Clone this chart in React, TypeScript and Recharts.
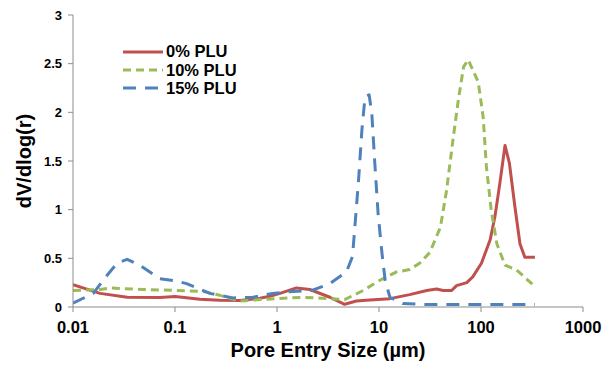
import React from "react";
import { Line, LineChart, XAxis, YAxis } from "recharts";

// Pore size distribution (MIP) — three PLU dosages, log x-axis.
const sizes0 = [0.01, 0.0184, 0.034, 0.071, 0.1, 0.176, 0.275, 0.43, 0.68, 0.85, 1.07, 1.55, 2.1, 3.3, 4.6, 6.0, 8.1, 12.8, 20, 29.4, 36.7, 42.6, 51.5, 57.6, 72.5, 83, 101, 123, 137, 153, 172, 190, 215, 241, 269, 338];
const values0 = [0.23, 0.14, 0.1, 0.097, 0.107, 0.08, 0.07, 0.066, 0.09, 0.11, 0.14, 0.196, 0.18, 0.1, 0.028, 0.062, 0.073, 0.086, 0.127, 0.17, 0.185, 0.17, 0.17, 0.22, 0.25, 0.31, 0.45, 0.69, 0.93, 1.27, 1.66, 1.475, 1.03, 0.65, 0.51, 0.51];

const sizes10 = [0.01, 0.0184, 0.023, 0.048, 0.1, 0.19, 0.275, 0.43, 0.68, 1.0, 1.8, 2.8, 4.6, 7, 10, 14.9, 20, 25, 31.5, 40, 46, 53, 60, 67.6, 75, 94, 105, 113, 126, 143, 172, 224, 338];
const values10 = [0.17, 0.18, 0.195, 0.18, 0.17, 0.16, 0.12, 0.06, 0.076, 0.086, 0.1, 0.09, 0.075, 0.17, 0.27, 0.36, 0.385, 0.45, 0.56, 0.82, 1.2, 1.71, 2.13, 2.47, 2.54, 2.31, 1.95, 1.44, 0.995, 0.65, 0.43, 0.38, 0.21];

const sizes15 = [0.01, 0.0158, 0.021, 0.027, 0.034, 0.045, 0.071, 0.1, 0.13, 0.22, 0.37, 0.58, 0.91, 1.24, 2.2, 3.3, 4.8, 5.5, 6.3, 6.8, 7.3, 8.0, 8.5, 9.1, 9.8, 10.7, 11.5, 12.8, 17.2, 30, 100, 338];
const values15 = [0.04, 0.14, 0.31, 0.45, 0.49, 0.43, 0.29, 0.27, 0.24, 0.14, 0.093, 0.1, 0.14, 0.155, 0.17, 0.24, 0.36, 0.52, 1.3, 1.82, 2.16, 2.18, 1.99, 1.475, 0.96, 0.55, 0.27, 0.1, 0.035, 0.025, 0.025, 0.025];

const xTicks = [0.01, 0.1, 1, 10, 100, 1000];
const yTicks = [0, 0.5, 1, 1.5, 2, 2.5, 3];

const series = [
  { name: "0% PLU", color: "#C0504D", dash: undefined as string | undefined, sizes: sizes0, values: values0 },
  { name: "10% PLU", color: "#9BBB59", dash: "8 5", sizes: sizes10, values: values10 },
  { name: "15% PLU", color: "#4F81BD", dash: "13 9", sizes: sizes15, values: values15 },
];

const FONT = '"Liberation Sans", Arial, sans-serif';
const AXIS = "#8c8c8c";

// legend sits inside the plot, top-left; drawn outside recharts so it doesn't eat the margin
function LegendBox() {
  return (
    <div style={{ position: "absolute", left: 123, top: 42.5, fontFamily: FONT }}>
      {series.map((s) => (
        <div key={s.name} style={{ display: "flex", alignItems: "center", height: 18.3 }}>
          <svg width={43} height={6} style={{ display: "block" }}>
            <line x1={0} y1={3} x2={40} y2={3} stroke={s.color} strokeWidth={3} strokeDasharray={s.dash} />
          </svg>
          <span style={{ fontSize: 16.5, fontWeight: 700, color: "#000", lineHeight: 1 }}>{s.name}</span>
        </div>
      ))}
    </div>
  );
}

export default function App() {
  return (
    <div style={{ position: "absolute", left: 0, top: 0, width: 613, height: 368, background: "#fff", fontFamily: FONT }}>
      <LineChart width={613} height={368} margin={{ top: 15, right: 30, bottom: 6, left: 0 }}>
        <XAxis
          dataKey="x"
          type="number"
          scale="log"
          domain={[0.01, 1000]}
          ticks={xTicks}
          allowDataOverflow
          height={55}
          stroke={AXIS}
          tickSize={5}
          tickMargin={9}
          tick={{ fontSize: 16.5, fontWeight: 700, fill: "#000", fontFamily: FONT }}
          label={{
            value: "Pore Entry Size (µm)",
            position: "insideBottom",
            offset: 5,
            style: { fontSize: 20, fontWeight: 700, fill: "#000", fontFamily: FONT },
          }}
        />
        <YAxis
          type="number"
          domain={[0, 3]}
          ticks={yTicks}
          width={73}
          stroke={AXIS}
          tickSize={5}
          tickMargin={6}
          tick={{ fontSize: 13, fontWeight: 700, fill: "#000", fontFamily: FONT }}
          label={{
            value: "dV/dlog(r)",
            angle: -90,
            position: "insideLeft",
            offset: 24,
            style: { fontSize: 20, fontWeight: 700, fill: "#000", fontFamily: FONT, textAnchor: "middle" },
          }}
        />
        {series.map((s) => (
          <Line
            key={s.name}
            name={s.name}
            data={s.sizes.map((x, i) => ({ x, v: s.values[i] }))}
            dataKey="v"
            type="linear"
            stroke={s.color}
            strokeWidth={3}
            strokeLinejoin="round"
            strokeDasharray={s.dash}
            dot={false}
            activeDot={false}
            isAnimationActive={false}
          />
        ))}
      </LineChart>
      <LegendBox />
    </div>
  );
}
